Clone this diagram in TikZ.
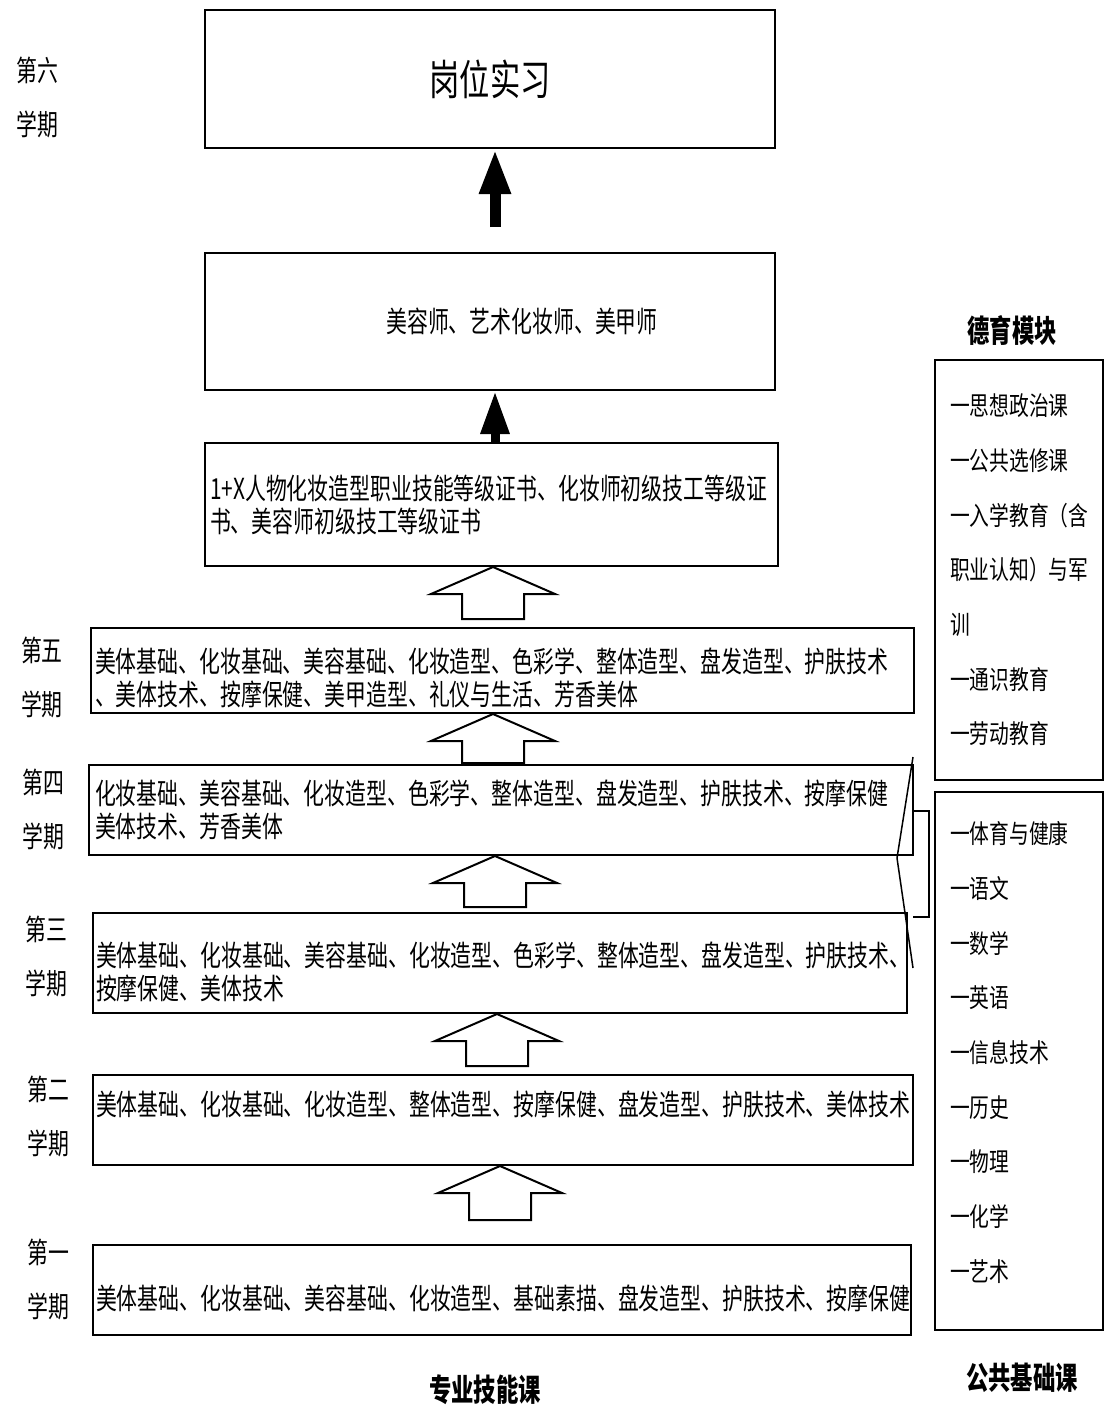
\documentclass[tikz,border=0pt]{standalone}
\usepackage{fontspec}
\newfontfamily\cjk[FakeStretch=0.72]{Noto Sans CJK SC}
\newfontfamily\cjkr[FakeStretch=0.76]{Noto Sans CJK SC}
\usetikzlibrary{arrows.meta,calc}
\newcommand\dn[1]{\rule{0pt}{#1pt}}
\newcommand\upby[1]{\rule[-#1pt]{0pt}{0pt}}
\tikzset{
  box/.style={draw, line width=2pt, inner ysep=0pt, inner xsep=4pt,
    font=\cjk\fontsize{29pt}{33pt}\selectfont, align=left},
  sidebox/.style={draw, line width=2pt, inner ysep=0pt, inner xsep=15pt,
    minimum width=168pt, text width=138pt, align=left,
    font=\cjkr\fontsize{26pt}{54.7pt}\selectfont},
  term/.style={font=\cjk\fontsize{29pt}{54pt}\selectfont, align=center, inner sep=0pt},
  head/.style={font=\cjk\bfseries\fontsize{31pt}{36pt}\selectfont, inner sep=0pt},
  hol/.style={draw, line width=2pt, line join=miter},
  brk/.style={line width=1.5pt}
}
% hollow arrow: #1 upper node, #2 lower node, #3 x centre, #4 gap above lower node
\newcommand\harrow[4]{%
  \path[hol] let \p1=(#1.south), \p2=(#2.north) in
    (#3pt,\y1) -- ({#3pt-62pt},{\y1-27pt}) -- ({#3pt-31pt},{\y1-27pt})
    -- ({#3pt-31pt},{\y2+#4pt}) -- ({#3pt+31pt},{\y2+#4pt})
    -- ({#3pt+31pt},{\y1-27pt}) -- ({#3pt+62pt},{\y1-27pt}) -- cycle;}
\begin{document}
\begin{tikzpicture}[x=1pt,y=-1pt]
\useasboundingbox[fill=white] (0,0) rectangle (1105,1416);

% main column
\node[box, minimum width=570pt, minimum height=138pt, align=center,
  font=\cjk\fontsize{42pt}{46pt}\selectfont] (intern) at (490,79) {岗位实习};
\node[box, minimum width=570pt, minimum height=137pt, text width=562pt, align=center]
  (jobs) at (490,321.5) {\hspace*{64pt}美容师、艺术化妆师、美甲师};
\node[box, minimum width=573pt, minimum height=123pt, text width=563pt]
  (cert) at (491.5,504.5) {1+X人物化妆造型职业技能等级证书、化妆师初级技工等级证\\书、美容师初级技工等级证书};
\node[box, minimum width=823pt, minimum height=85pt, text width=815pt]
  (s5) at (502.5,670.5) {\dn{40}美体基础、化妆基础、美容基础、化妆造型、色彩学、整体造型、盘发造型、护肤技术\\、美体技术、按摩保健、美甲造型、礼仪与生活、芳香美体};
\node[box, minimum width=820pt, minimum height=90pt, text width=812pt, inner xsep=6pt]
  (s4) at (501,810) {化妆基础、美容基础、化妆造型、色彩学、整体造型、盘发造型、护肤技术、按摩保健\\美体技术、芳香美体};
\node[box, minimum width=814pt, minimum height=100pt, text width=808pt, inner xsep=2pt]
  (s3) at (500,963) {\dn{42}美体基础、化妆基础、美容基础、化妆造型、色彩学、整体造型、盘发造型、护肤技术、\\按摩保健、美体技术};
\node[box, minimum width=820pt, minimum height=90pt, text width=814pt, inner xsep=2pt]
  (s2) at (503,1120) {美体基础、化妆基础、化妆造型、整体造型、按摩保健、盘发造型、护肤技术、美体技术\\\mbox{}};
\node[box, minimum width=818pt, minimum height=90pt, text width=812pt, inner xsep=3pt]
  (s1) at (502,1290) {\dn{42}美体基础、化妆基础、美容基础、化妆造型、基础素描、盘发造型、护肤技术、按摩保健};

% solid arrows
\draw[line width=11pt, -{Triangle[length=45pt,width=29pt]}]
  ($(jobs.north)+(5,-25)$) -- ($(intern.south)+(5,0)$);
\draw[line width=9pt, -{Triangle[length=43pt,width=27pt]}]
  ($(cert.north)+(3.5,0)$) -- ($(jobs.south)+(5,0)$);

% hollow arrows
\harrow{cert}{s5}{493}{8}
\harrow{s5}{s4}{493}{1}
\harrow{s4}{s3}{495}{5}
\harrow{s3}{s2}{497}{8}
\harrow{s2}{s1}{500}{24}

% bracket next to term 4/3
\draw[brk] (913,757) -- (897,858) -- (913,968);
\draw[brk] (913,811) -- (929,811) -- (929,917) -- (913,917);

% term labels
\node[term] (t6) at (37,97) {第六\\学期};
\node[term] (t5) at (42,677.5) {第五\\学期};
\node[term] (t4) at (43,809.5) {第四\\学期};
\node[term] (t3) at (46.5,956.5) {第三\\学期};
\node[term] (t2) at (48,1116.5) {第二\\学期};
\node[term] (t1) at (48,1279.5) {第一\\学期};

% side boxes
\node[head] (dyh) at (1012,330) {德育模块};
\node[sidebox, minimum height=420pt] (dy) at (1019,570)
  {一思想政治课\\一公共选修课\\一入学教育（含\\职业认知）与军\\训\\一通识教育\\一劳动教育};
\node[sidebox, minimum height=538pt] (gg) at (1019,1061)
  {一体育与健康\\一语文\\一数学\\一英语\\一信息技术\\一历史\\一物理\\一化学\\一艺术\upby{19}};

% bottom titles
\node[head] (zy) at (485,1390) {专业技能课};
\node[head] (ggh) at (1022,1378) {公共基础课};
\end{tikzpicture}
\end{document}
